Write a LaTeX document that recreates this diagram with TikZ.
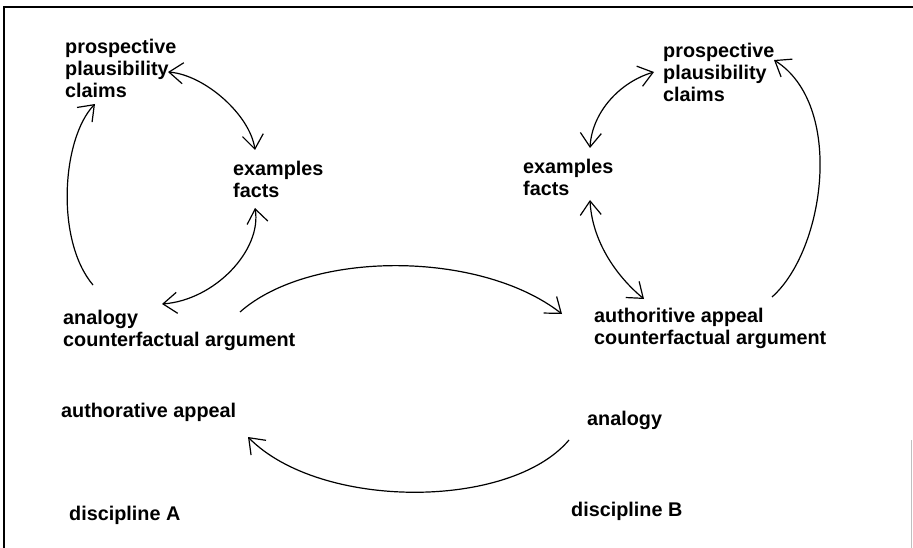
\documentclass[tikz,border=0pt]{standalone}
\usepackage{fontspec}
\setmainfont{Liberation Sans}
\usetikzlibrary{arrows.meta}
\begin{document}
\begin{tikzpicture}[x=1pt,y=-1pt,
  lbl/.style={anchor=north west, inner sep=0pt, align=left, font=\bfseries\fontsize{19.8}{22}\selectfont},
  conn/.style={line width=1.2pt},
  >={Straight Barb[length=14pt,width=21pt,line width=1.2pt]}]
\useasboundingbox (0,0) rectangle (913,548);
\fill[white] (0,0) rectangle (913,548);
% frame
\draw[line width=1.8pt] (913,7) -- (4,7) -- (4,548);
\draw[gray!50, line width=1pt] (911.5,440) -- (911.5,548);

% discipline A
\node[lbl] (LP) at (65,37.6) {\strut prospective\\plausibility\\claims};
\node[lbl] (LE) at (233,159.6) {\strut examples\\facts};
\node[lbl] (LA) at (63,308.6) {\strut analogy\\counterfactual argument};
\node[lbl] (LAA) at (61,401.6) {\strut authorative appeal};
\node[lbl] (DA) at (69,504.6) {\strut discipline A};

% discipline B
\node[lbl] (RP) at (663,41.6) {\strut prospective\\plausibility\\claims};
\node[lbl] (RE) at (523,157.6) {\strut examples\\facts};
\node[lbl] (RA) at (594,306.6) {\strut authoritive appeal\\counterfactual argument};
\node[lbl] (RAn) at (587,409.6) {\strut analogy};
\node[lbl] (DB) at (571,500.6) {\strut discipline B};

% connector end points
\coordinate (a1s) at (93,285);  \coordinate (a1e) at (95,104);
\coordinate (a2s) at (168,72);  \coordinate (a2e) at (255,150);
\coordinate (a3s) at (255,208); \coordinate (a3e) at (162,304);
\coordinate (a4s) at (240,312); \coordinate (a4e) at (562,314);
\coordinate (a5s) at (654,72);  \coordinate (a5e) at (590,148);
\coordinate (a6s) at (590,200); \coordinate (a6e) at (644,299);
\coordinate (a7s) at (772,297); \coordinate (a7e) at (774,60);
\coordinate (a8s) at (569,440); \coordinate (a8e) at (248,437);

% left cycle
\draw[conn,->] (a1s) .. controls (55,240) and (62,138) .. (a1e);
\draw[conn,<->] (a2s) .. controls (205,75) and (250,115) .. (a2e);
\draw[conn,<->] (a3s) .. controls (262,250) and (215,300) .. (a3e);
% between disciplines
\draw[conn,->] (a4s) .. controls (310,250) and (480,250) .. (a4e);
\draw[conn,->] (a8s) .. controls (510,510) and (320,510) .. (a8e);
% right cycle
\draw[conn,<->] (a5s) .. controls (620,82) and (592,112) .. (a5e);
\draw[conn,<->] (a6s) .. controls (592,240) and (615,275) .. (a6e);
\draw[conn,->] (a7s) .. controls (825,250) and (845,105) .. (a7e);
\end{tikzpicture}
\end{document}
